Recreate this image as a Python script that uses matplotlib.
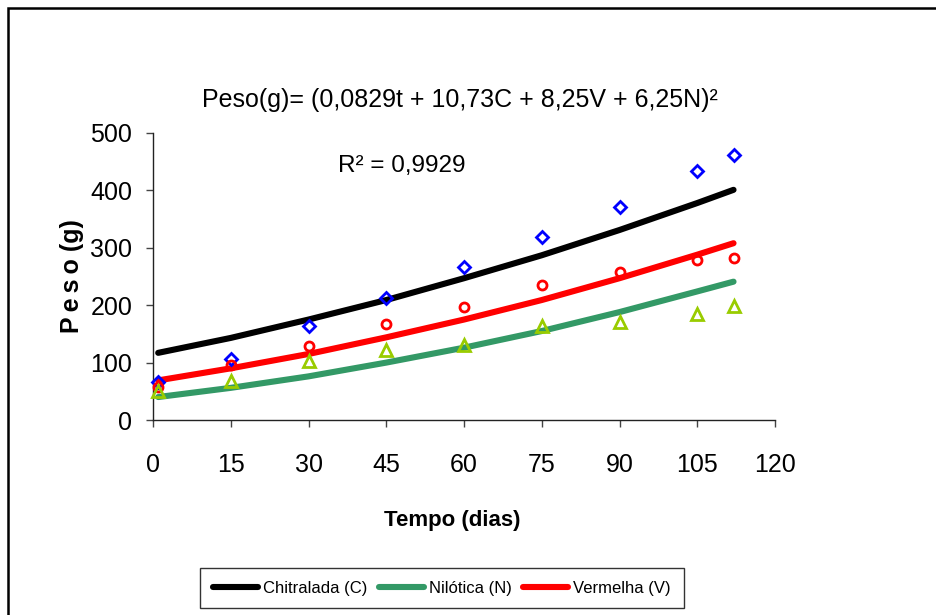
import matplotlib
matplotlib.use("Agg")
import matplotlib.pyplot as plt
from matplotlib.patches import Rectangle

# ---- data ----
days = [1, 15, 30, 45, 60, 75, 90, 105, 112]
chitralada_obs = [67, 107, 164, 212, 266, 318, 371, 434, 462]
vermelha_obs = [58, 96, 129, 167, 196, 235, 258, 278, 283]
nilotica_obs = [51, 68, 102, 122, 131, 164, 170, 184, 199]

fit_days = [1, 15, 30, 45, 60, 75, 90, 105, 112]
chitralada_fit = [117, 143, 175, 209, 247, 287, 331, 378, 401]
nilotica_fit = [40, 56, 76, 100, 126, 155, 188, 224, 241]
vermelha_fit = [69, 90, 115, 144, 175, 209, 247, 288, 308]

x_ticks = [0, 15, 30, 45, 60, 75, 90, 105, 120]
y_ticks = [0, 100, 200, 300, 400, 500]

plt.rcParams['font.family'] = ['Liberation Sans', 'DejaVu Sans']

W, H = 936, 615
fig = plt.figure(figsize=(W / 100, H / 100), dpi=100)

# outer border
fig.patches.append(Rectangle((8 / W, -0.1), 1.2, 1 - 8 / H + 0.1, transform=fig.transFigure,
                             fill=False, edgecolor='black', linewidth=1.8))

ax = fig.add_axes([153 / W, 1 - 420 / H, (775 - 153) / W, (420 - 133) / H])
ax.set_xlim(0, 120)
ax.set_ylim(0, 500)
for s in ['top', 'right']:
    ax.spines[s].set_visible(False)
for s in ['left', 'bottom']:
    ax.spines[s].set_color('#222222')
    ax.spines[s].set_linewidth(1.0)
ax.set_xticks(x_ticks)
ax.set_yticks(y_ticks)
ax.tick_params(axis='both', direction='out', length=5, width=1.0, color='#444444',
               labelsize=18)
ax.tick_params(axis='x', pad=19)
ax.tick_params(axis='y', pad=10)

lC, = ax.plot(fit_days, chitralada_fit, color='black', lw=4.4, solid_capstyle='round',
              label='Chitralada (C)', zorder=2)
lN, = ax.plot(fit_days, nilotica_fit, color='#339966', lw=4.4, solid_capstyle='round',
              label='Nilótica (N)', zorder=2)
lV, = ax.plot(fit_days, vermelha_fit, color='#FF0000', lw=4.4,
              solid_capstyle='round', label='Vermelha (V)', zorder=2)

ax.plot(days, chitralada_obs, linestyle='none', marker='D', ms=6.5, mfc='none',
        mec='#0000FF', mew=2, zorder=3, clip_on=False)
ax.plot(days, vermelha_obs, linestyle='none', marker='o', ms=6.5, mfc='none',
        mec='#FF0000', mew=2, zorder=3, clip_on=False)
ax.plot(days, nilotica_obs, linestyle='none', marker='^', ms=8, mfc='none',
        mec='#99CC00', mew=2, zorder=3, clip_on=False)

ax.set_xlabel('Tempo (dias)', fontsize=16, fontweight='bold')
ax.xaxis.set_label_coords((452 - 153) / (775 - 153), -(510 - 420) / (420 - 133))
ax.set_ylabel('P\u2009e\u2009s\u2009o (g)', fontsize=18, fontweight='bold')
ax.yaxis.set_label_coords(-(153 - 84) / (775 - 153), 0.5)

fig.text(460 / W, 1 - 100 / H, 'Peso(g)= (0,0829t + 10,73C + 8,25V + 6,25N)²',
         ha='center', va='center', fontsize=18)
fig.text(402 / W, 1 - 166 / H, 'R² = 0,9929', ha='center', va='center', fontsize=17.5)

leg = fig.legend(handles=[lC, lN, lV], loc='center', bbox_to_anchor=(442 / W, 1 - 588 / H),
                 ncol=3, fontsize=12, frameon=True, fancybox=False, edgecolor='black',
                 handlelength=2.7, handletextpad=0.3, columnspacing=0.7,
                 borderpad=0.75)
leg.get_frame().set_linewidth(1.0)

fig.savefig('out.png', dpi=100)
